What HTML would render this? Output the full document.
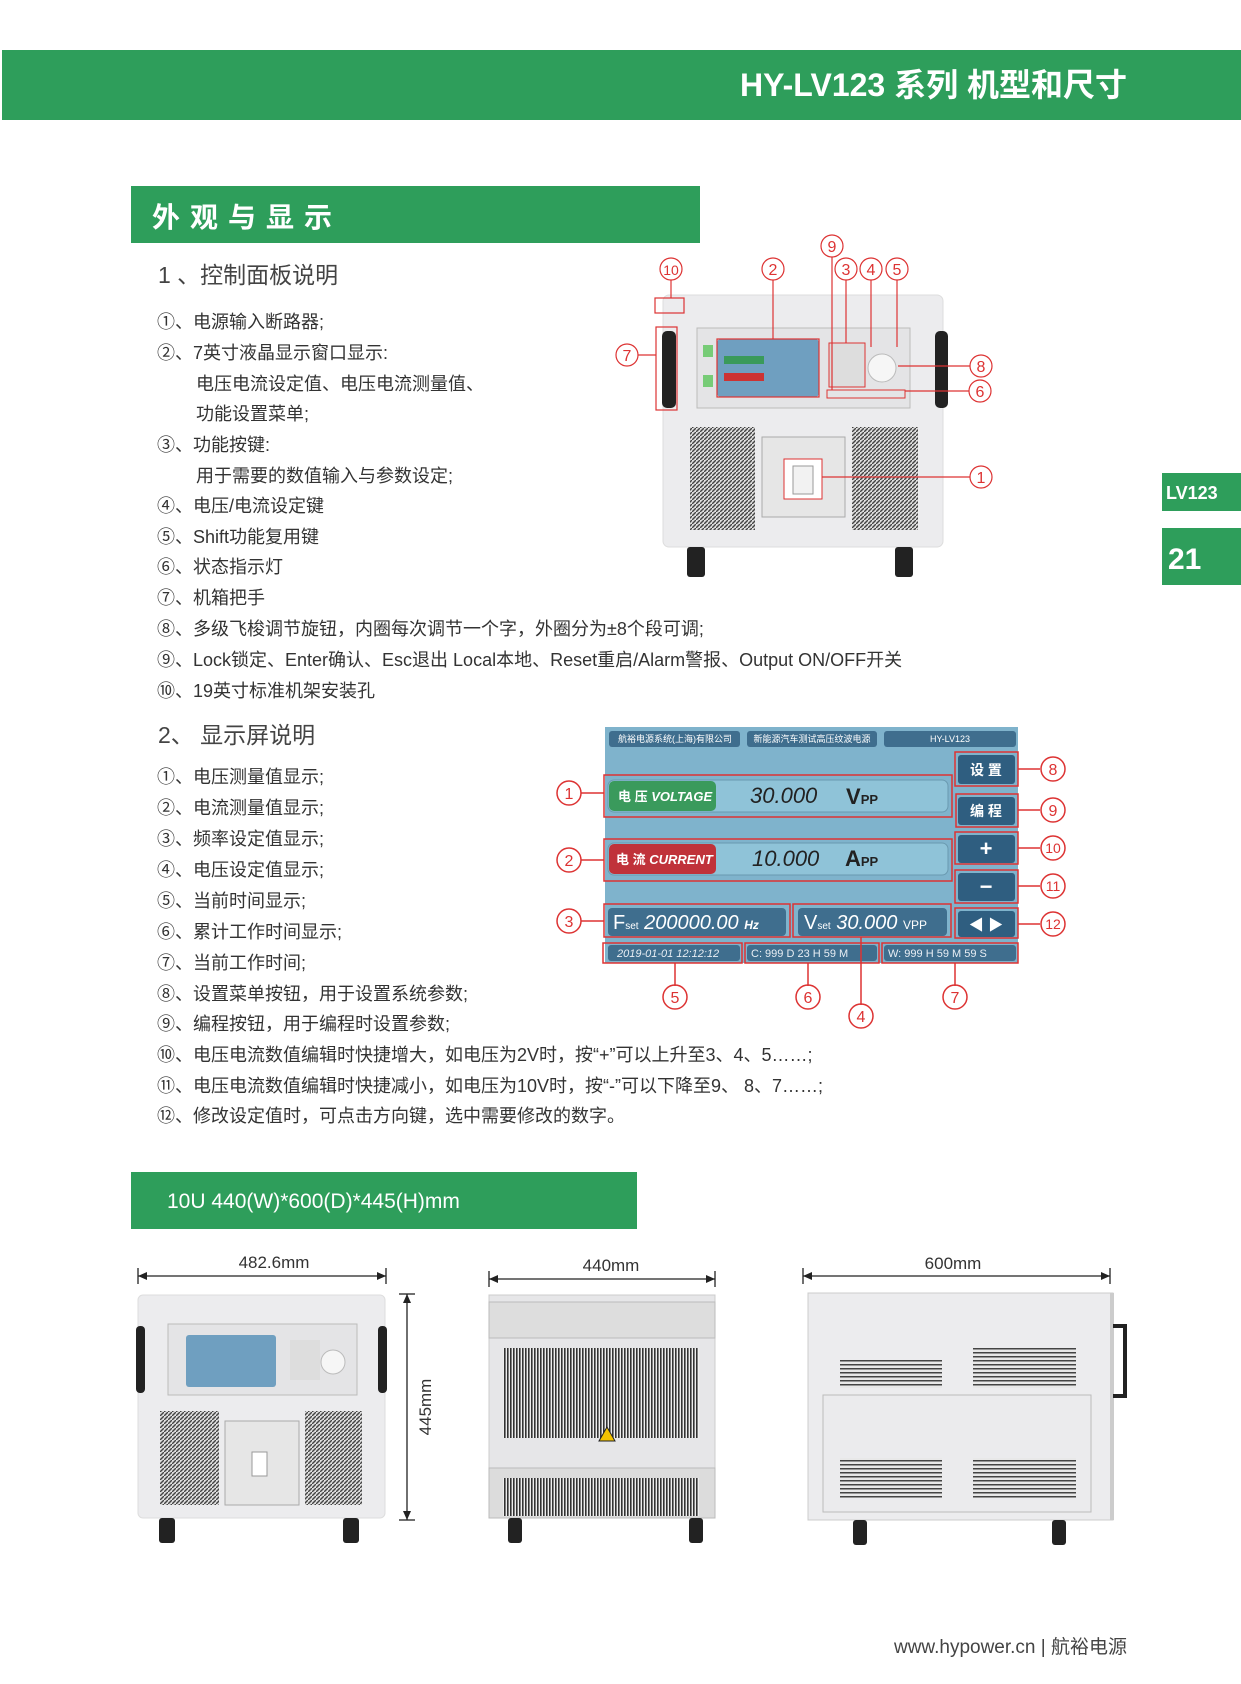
<!DOCTYPE html>
<html><head><meta charset="utf-8"><style>
html,body{margin:0;padding:0;background:#fff}
svg{display:block}
text{font-family:"Liberation Sans","Noto Sans CJK SC",sans-serif}
.t{font-size:18px;fill:#333}
.h{font-size:23px;fill:#444}
.cc{font-size:16px;fill:#d33;text-anchor:middle}
</style></head><body>
<svg width="1241" height="1684" viewBox="0 0 1241 1684" xmlns="http://www.w3.org/2000/svg">
<defs>
<pattern id="gr" width="4" height="4" patternUnits="userSpaceOnUse"><rect width="4" height="4" fill="#ddd"/><path d="M0 4L4 0" stroke="#444" stroke-width="1.4"/></pattern>
<pattern id="vs" width="3" height="10" patternUnits="userSpaceOnUse"><rect width="3" height="10" fill="#eee"/><rect width="1.6" height="10" fill="#333"/></pattern>
<pattern id="hs" width="10" height="4" patternUnits="userSpaceOnUse"><rect width="10" height="4" fill="#e8e8e8"/><rect width="10" height="1.5" fill="#444"/></pattern>
</defs>
<!-- header -->
<rect x="2" y="50" width="1239" height="70" fill="#2e9e5b"/>
<text x="1127" y="96" text-anchor="end" font-size="32" font-weight="bold" fill="#fff">HY-LV123 系列  机型和尺寸</text>
<rect x="131" y="186" width="569" height="57" fill="#2e9e5b"/>
<text x="152" y="227" font-size="28" font-weight="bold" fill="#fff" letter-spacing="10">外观与显示</text>
<!-- side tabs -->
<rect x="1162" y="473" width="79" height="38" fill="#2e9e5b"/>
<text x="1166" y="499" font-size="18" font-weight="bold" fill="#fff">LV123</text>
<rect x="1162" y="528" width="79" height="57" fill="#2e9e5b"/>
<text x="1168" y="569" font-size="30" font-weight="bold" fill="#fff">21</text>

<text x="158" y="283" class="h">1 、控制面板说明</text>
<g class="t">
<text x="157" y="328" class="t">①、电源输入断路器;</text>
<text x="157" y="359" class="t">②、7英寸液晶显示窗口显示:</text>
<text x="196" y="390" class="t">电压电流设定值、电压电流测量值、</text>
<text x="196" y="420" class="t">功能设置菜单;</text>
<text x="157" y="451" class="t">③、功能按键:</text>
<text x="196" y="482" class="t">用于需要的数值输入与参数设定;</text>
<text x="157" y="512" class="t">④、电压/电流设定键</text>
<text x="157" y="543" class="t">⑤、Shift功能复用键</text>
<text x="157" y="573" class="t">⑥、状态指示灯</text>
<text x="157" y="604" class="t">⑦、机箱把手</text>
<text x="157" y="635" class="t">⑧、多级飞梭调节旋钮，内圈每次调节一个字，外圈分为±8个段可调;</text>
<text x="157" y="666" class="t">⑨、Lock锁定、Enter确认、Esc退出 Local本地、Reset重启/Alarm警报、Output ON/OFF开关</text>
<text x="157" y="697" class="t">⑩、19英寸标准机架安装孔</text>
</g>
<text x="158" y="743" class="h">2、 显示屏说明</text>
<text x="157" y="783" class="t">①、电压测量值显示;</text>
<text x="157" y="814" class="t">②、电流测量值显示;</text>
<text x="157" y="845" class="t">③、频率设定值显示;</text>
<text x="157" y="876" class="t">④、电压设定值显示;</text>
<text x="157" y="907" class="t">⑤、当前时间显示;</text>
<text x="157" y="938" class="t">⑥、累计工作时间显示;</text>
<text x="157" y="969" class="t">⑦、当前工作时间;</text>
<text x="157" y="1000" class="t">⑧、设置菜单按钮，用于设置系统参数;</text>
<text x="157" y="1030" class="t">⑨、编程按钮，用于编程时设置参数;</text>
<text x="157" y="1061" class="t">⑩、电压电流数值编辑时快捷增大，如电压为2V时，按“+”可以上升至3、4、5……;</text>
<text x="157" y="1092" class="t">⑪、电压电流数值编辑时快捷减小，如电压为10V时，按“-”可以下降至9、 8、7……;</text>
<text x="157" y="1122" class="t">⑫、修改设定值时，可点击方向键，选中需要修改的数字。</text>

<!-- top device -->
<rect x="663" y="295" width="280" height="252" rx="6" fill="#ececee" stroke="#ddd"/>
<rect x="697" y="328" width="213" height="80" fill="#e4e4e6" stroke="#bbb"/>
<rect x="717" y="339" width="102" height="58" rx="4" fill="#6f9fc0"/>
<rect x="724" y="356" width="40" height="8" fill="#3a9a5a"/><rect x="724" y="373" width="40" height="8" fill="#c33"/>
<rect x="703" y="345" width="10" height="12" fill="#7c7"/><rect x="703" y="375" width="10" height="12" fill="#7c7"/>
<rect x="829" y="343" width="36" height="44" fill="#ddd" stroke="#d33" stroke-width="1"/>
<circle cx="882" cy="368" r="14" fill="#f6f6f6" stroke="#bbb"/>
<rect x="827" y="390" width="78" height="8" fill="none" stroke="#d33"/>
<rect x="662" y="331" width="14" height="77" rx="5" fill="#222"/>
<rect x="935" y="331" width="13" height="77" rx="5" fill="#222"/>
<rect x="690" y="427" width="65" height="103" fill="url(#gr)"/>
<rect x="852" y="427" width="66" height="103" fill="url(#gr)"/>
<rect x="762" y="437" width="83" height="80" fill="#e6e6e6" stroke="#aaa"/>
<rect x="784" y="459" width="38" height="40" fill="#fff" stroke="#d33"/>
<rect x="793" y="466" width="20" height="28" fill="#f2f2f2" stroke="#999"/>
<rect x="687" y="547" width="18" height="30" rx="3" fill="#222"/>
<rect x="895" y="547" width="18" height="30" rx="3" fill="#222"/>
<g stroke="#d33" fill="none" stroke-width="1.2">
<rect x="655" y="298" width="29" height="15"/>
<rect x="656" y="327" width="21" height="83"/>
<rect x="717" y="339" width="102" height="58"/>
<line x1="671" y1="280" x2="671" y2="298"/><line x1="773" y1="280" x2="773" y2="339"/>
<line x1="832" y1="257" x2="832" y2="390"/><line x1="846" y1="280" x2="846" y2="343"/>
<line x1="871" y1="280" x2="871" y2="347"/><line x1="897" y1="280" x2="897" y2="347"/>
<line x1="638" y1="355" x2="656" y2="355"/><line x1="898" y1="366" x2="970" y2="366"/>
<line x1="905" y1="391" x2="969" y2="391"/><line x1="822" y1="477" x2="970" y2="477"/>
<circle cx="671" cy="269" r="11"/><circle cx="773" cy="269" r="11"/><circle cx="832" cy="246" r="11"/>
<circle cx="846" cy="269" r="11"/><circle cx="871" cy="269" r="11"/><circle cx="897" cy="269" r="11"/>
<circle cx="627" cy="355" r="11"/><circle cx="981" cy="366" r="11"/><circle cx="980" cy="391" r="11"/><circle cx="981" cy="477" r="11"/>
</g>
<g class="cc"><text x="671" y="275" font-size="14">10</text><text x="773" y="275">2</text><text x="832" y="252">9</text>
<text x="846" y="275">3</text><text x="871" y="275">4</text><text x="897" y="275">5</text><text x="627" y="361">7</text>
<text x="981" y="372">8</text><text x="980" y="397">6</text><text x="981" y="483">1</text></g>

<!-- display screen -->
<rect x="605" y="727" width="413" height="236" fill="#7fb3cc"/>
<g fill="#3f6e8e"><rect x="609" y="731" width="131" height="16" rx="3"/><rect x="747" y="731" width="130" height="16" rx="3"/><rect x="884" y="731" width="132" height="16" rx="3"/></g>
<g font-size="9" fill="#fff" text-anchor="middle"><text x="675" y="742">航裕电源系统(上海)有限公司</text><text x="812" y="742">新能源汽车测试高压纹波电源</text><text x="950" y="742">HY-LV123</text></g>
<rect x="608" y="780" width="340" height="32" rx="6" fill="#8fc3d8" stroke="#6a9ab0"/>
<rect x="609" y="781" width="107" height="30" rx="5" fill="#3a9a5c"/>
<text x="618" y="801" font-size="13" font-weight="bold" fill="#fff">电 压 <tspan font-style="italic">VOLTAGE</tspan></text>
<text x="750" y="803" font-size="22" font-style="italic" fill="#222">30.000</text><text x="846" y="804" font-size="22" font-weight="bold" fill="#222">V<tspan font-size="13">PP</tspan></text>
<rect x="608" y="843" width="340" height="32" rx="6" fill="#8fc3d8" stroke="#6a9ab0"/>
<rect x="609" y="844" width="107" height="30" rx="5" fill="#c0323a"/>
<text x="616" y="864" font-size="13" font-weight="bold" fill="#fff">电 流 <tspan font-style="italic">CURRENT</tspan></text>
<text x="752" y="866" font-size="22" font-style="italic" fill="#222">10.000</text><text x="845" y="866" font-size="22" font-weight="bold" fill="#222">A<tspan font-size="13">PP</tspan></text>
<rect x="608" y="908" width="178" height="28" rx="4" fill="#3f6e8e"/>
<text x="613" y="929" font-size="20" fill="#fff">F<tspan font-size="10">set</tspan> <tspan font-style="italic">200000.00</tspan> <tspan font-size="12" font-style="italic" font-weight="bold">Hz</tspan></text>
<rect x="798" y="908" width="149" height="28" rx="4" fill="#3f6e8e"/>
<text x="804" y="929" font-size="20" fill="#fff">V<tspan font-size="10">set</tspan> <tspan font-style="italic">30.000</tspan> <tspan font-size="12">VPP</tspan></text>
<g fill="#3f6e8e"><rect x="608" y="945" width="132" height="16" rx="3"/><rect x="747" y="945" width="130" height="16" rx="3"/><rect x="884" y="945" width="132" height="16" rx="3"/></g>
<g font-size="11" fill="#e8eef4"><text x="617" y="957" font-style="italic">2019-01-01  12:12:12</text><text x="751" y="957">C:      999 D  23 H  59 M</text><text x="888" y="957">W:        999 H  59 M  59 S</text></g>
<g fill="#2f5e80"><rect x="958" y="755" width="57" height="29" rx="3"/><rect x="958" y="797" width="57" height="28" rx="3"/><rect x="958" y="835" width="57" height="28" rx="3"/><rect x="958" y="873" width="57" height="28" rx="3"/><rect x="958" y="911" width="57" height="26" rx="3"/></g>
<g fill="#fff" font-weight="bold" text-anchor="middle"><text x="986" y="775" font-size="14">设 置</text><text x="986" y="816" font-size="14">编 程</text><text x="986" y="856" font-size="22">+</text><text x="986" y="894" font-size="22">−</text><text x="986" y="930" font-size="15">◀  ▶</text></g>
<g stroke="#d33" fill="none" stroke-width="1.5">
<rect x="604" y="775" width="348" height="42"/><rect x="604" y="839" width="348" height="42"/>
<rect x="604" y="904" width="186" height="33"/><rect x="793" y="904" width="158" height="33"/>
<rect x="603" y="943" width="139" height="20"/><rect x="745" y="943" width="134" height="20"/><rect x="882" y="943" width="136" height="20"/>
<rect x="955" y="752" width="63" height="34"/><rect x="956" y="794" width="62" height="33"/><rect x="955" y="832" width="63" height="32"/><rect x="955" y="870" width="63" height="33"/><rect x="955" y="908" width="63" height="30"/>
<line x1="581" y1="793" x2="604" y2="793"/><line x1="581" y1="860" x2="604" y2="860"/><line x1="581" y1="921" x2="604" y2="921"/>
<line x1="1018" y1="769" x2="1040" y2="769"/><line x1="1018" y1="810" x2="1040" y2="810"/><line x1="1018" y1="848" x2="1040" y2="848"/><line x1="1018" y1="886" x2="1040" y2="886"/><line x1="1018" y1="924" x2="1040" y2="924"/>
<line x1="675" y1="963" x2="675" y2="986"/><line x1="808" y1="963" x2="808" y2="986"/><line x1="861" y1="937" x2="861" y2="1005"/><line x1="955" y1="963" x2="955" y2="986"/>
<circle cx="569" cy="793" r="12"/><circle cx="569" cy="860" r="12"/><circle cx="569" cy="921" r="12"/>
<circle cx="1053" cy="769" r="12"/><circle cx="1053" cy="810" r="12"/><circle cx="1053" cy="848" r="12"/><circle cx="1053" cy="886" r="12"/><circle cx="1053" cy="924" r="12"/>
<circle cx="675" cy="997" r="12"/><circle cx="808" cy="997" r="12"/><circle cx="861" cy="1016" r="12"/><circle cx="955" cy="997" r="12"/>
</g>
<g class="cc" font-size="17"><text x="569" y="799">1</text><text x="569" y="866">2</text><text x="569" y="927">3</text>
<text x="1053" y="775">8</text><text x="1053" y="816">9</text><text x="1053" y="853" font-size="14">10</text><text x="1053" y="891" font-size="14">11</text><text x="1053" y="929" font-size="14">12</text>
<text x="675" y="1003">5</text><text x="808" y="1003">6</text><text x="861" y="1022">4</text><text x="955" y="1003">7</text></g>

<!-- 10U bar -->
<rect x="131" y="1172" width="506" height="57" fill="#2e9e5b"/>
<text x="167" y="1208" font-size="21" fill="#fff">10U 440(W)*600(D)*445(H)mm</text>

<!-- dimension lines -->
<g stroke="#222" stroke-width="1.3" fill="#222">
<line x1="138" y1="1276" x2="386" y2="1276"/><line x1="138" y1="1268" x2="138" y2="1284"/><line x1="386" y1="1268" x2="386" y2="1284"/>
<line x1="489" y1="1279" x2="715" y2="1279"/><line x1="489" y1="1271" x2="489" y2="1287"/><line x1="715" y1="1271" x2="715" y2="1287"/>
<line x1="803" y1="1276" x2="1110" y2="1276"/><line x1="803" y1="1268" x2="803" y2="1284"/><line x1="1110" y1="1268" x2="1110" y2="1284"/>
<line x1="407" y1="1294" x2="407" y2="1520"/><line x1="399" y1="1294" x2="415" y2="1294"/><line x1="399" y1="1520" x2="415" y2="1520"/>
</g>
<g fill="#222"><path d="M138 1276l9-4v8z"/><path d="M386 1276l-9-4v8z"/><path d="M489 1279l9-4v8z"/><path d="M715 1279l-9-4v8z"/><path d="M803 1276l9-4v8z"/><path d="M1110 1276l-9-4v8z"/><path d="M407 1294l-4 9h8z"/><path d="M407 1520l-4-9h8z"/></g>
<g font-size="17" fill="#333" text-anchor="middle"><text x="274" y="1268">482.6mm</text><text x="611" y="1271">440mm</text><text x="953" y="1269">600mm</text>
<text transform="translate(431 1407) rotate(-90)">445mm</text></g>

<!-- front view -->
<rect x="138" y="1295" width="247" height="223" rx="5" fill="#ececee" stroke="#ddd"/>
<rect x="168" y="1324" width="189" height="71" fill="#e4e4e6" stroke="#bbb"/>
<rect x="186" y="1335" width="90" height="52" rx="3" fill="#6f9fc0"/>
<rect x="290" y="1340" width="30" height="40" fill="#ddd"/><circle cx="333" cy="1362" r="12" fill="#f6f6f6" stroke="#bbb"/>
<rect x="136" y="1326" width="9" height="67" rx="4" fill="#222"/><rect x="378" y="1326" width="9" height="67" rx="4" fill="#222"/>
<rect x="160" y="1411" width="59" height="94" fill="url(#gr)"/><rect x="305" y="1411" width="57" height="94" fill="url(#gr)"/>
<rect x="225" y="1421" width="74" height="84" fill="#e6e6e6" stroke="#aaa"/><rect x="252" y="1452" width="15" height="24" fill="#fff" stroke="#999"/>
<rect x="159" y="1518" width="16" height="25" rx="3" fill="#222"/><rect x="343" y="1518" width="16" height="25" rx="3" fill="#222"/>
<!-- rear view -->
<rect x="489" y="1295" width="226" height="223" fill="#e6e6e8" stroke="#ccc"/>
<rect x="489" y="1302" width="226" height="36" fill="#ddd" stroke="#bbb"/>
<rect x="503" y="1348" width="196" height="90" fill="url(#vs)"/>
<rect x="489" y="1468" width="226" height="50" fill="#dcdcdc" stroke="#bbb"/>
<rect x="503" y="1478" width="196" height="38" fill="url(#vs)"/>
<path d="M607 1427l8 14h-16z" fill="#f2c200" stroke="#222"/>
<rect x="508" y="1518" width="14" height="25" rx="3" fill="#222"/><rect x="689" y="1518" width="14" height="25" rx="3" fill="#222"/>
<!-- side view -->
<rect x="808" y="1293" width="305" height="227" fill="#ececee" stroke="#ccc"/>
<rect x="1110" y="1293" width="4" height="227" fill="#ccc"/>
<path d="M1113 1326h12v70h-12" fill="none" stroke="#222" stroke-width="4"/>
<rect x="840" y="1360" width="102" height="28" fill="url(#hs)"/><rect x="973" y="1348" width="103" height="40" fill="url(#hs)"/>
<rect x="823" y="1395" width="268" height="117" fill="#ebebed" stroke="#bbb"/>
<rect x="840" y="1458" width="102" height="40" fill="url(#hs)"/><rect x="973" y="1458" width="103" height="40" fill="url(#hs)"/>
<rect x="853" y="1520" width="14" height="25" rx="3" fill="#222"/><rect x="1052" y="1520" width="14" height="25" rx="3" fill="#222"/>

<text x="1127" y="1653" text-anchor="end" font-size="19" fill="#444">www.hypower.cn  |  航裕电源</text>
</svg>
</body></html>
